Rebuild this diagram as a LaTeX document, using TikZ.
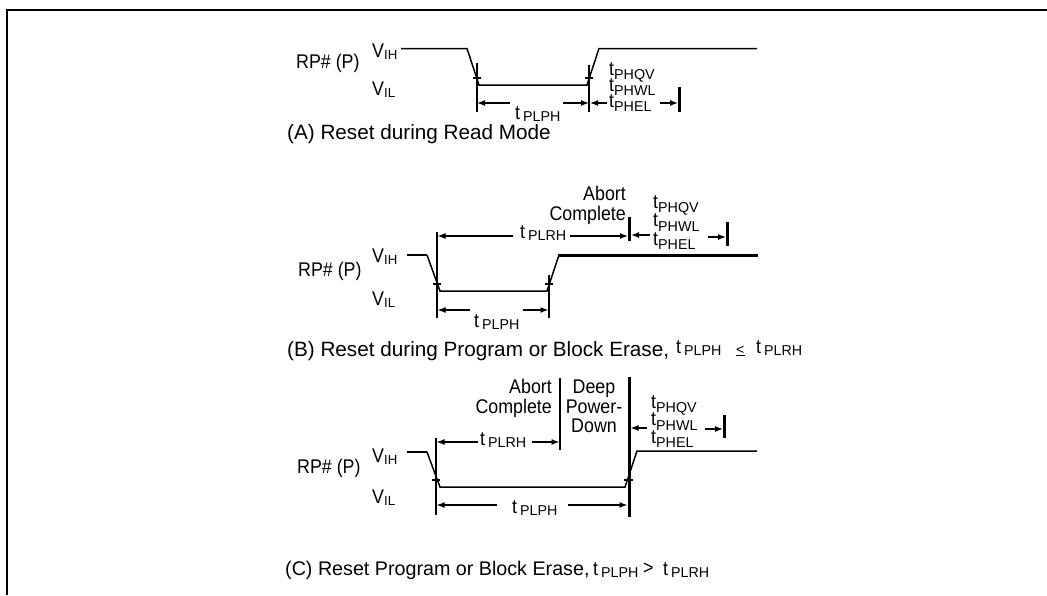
\documentclass[tikz,border=0pt]{standalone}
\usepackage{fontspec}
\setmainfont{Liberation Sans}
\newfontfamily\condf{Liberation Sans}[FakeStretch=0.9]
\usetikzlibrary{arrows.meta}
\newcommand\labf{\condf\fontsize{19.8}{22}\selectfont}
\newcommand\tsubf{\normalfont\fontsize{14.3}{16}\selectfont}
\newcommand\vsubf{\normalfont\fontsize{13.2}{15}\selectfont}
\newcommand\capf{\normalfont\fontsize{20.7}{24}\selectfont}
\newcommand\capcf{\normalfont\fontsize{19.7}{23}\selectfont}
\newcommand\tsb[1]{t\raisebox{-4.5pt}{\tsubf #1}}
\newcommand\tsp[1]{t\hspace{3pt}\raisebox{-2pt}{\tsubf #1}}
\newcommand\vsb[1]{V\raisebox{-2.5pt}{\vsubf #1}}
\tikzset{
  sig/.style={line width=1.5pt},
  heavy/.style={line width=3pt},
  dimarrow/.style={line width=1.4pt,-{Latex[length=8pt,width=6pt]}},
  txt/.style={inner sep=0pt,anchor=base west,font=\labf},
  txte/.style={inner sep=0pt,anchor=base east,font=\labf},
  txtc/.style={inner sep=0pt,anchor=base,font=\labf},
  captxt/.style={inner sep=0pt,anchor=base west,font=\capf},
}
\begin{document}
\begin{tikzpicture}[x=1pt,y=-1pt]
\useasboundingbox (0,0) rectangle (1047,595);
% frame
\draw[line width=2.5pt] (7,595) -- (7,10) -- (1047,10);

% ================= Part A =================
\node[txt] (rpA) at (296,68) {RP\# (P)};
\node[txt] (vihA) at (372,57) {\vsb{IH}};
\node[txt] (vilA) at (372,95) {\vsb{IL}};
\draw[sig] (401,48.5) -- (467,48.5) -- (479,85) -- (587,85) -- (599,48.5) -- (757,48.5);
\coordinate (A1t) at (477,63); \coordinate (A1b) at (477,112);
\coordinate (A2t) at (589,65); \coordinate (A2b) at (589,112);
\draw[sig] (A1t) -- (A1b);
\draw[sig] (A2t) -- (A2b);
\draw[sig] (473,78) -- (481,78);
\draw[sig] (585,78) -- (593,78);
\node[txt] (tplphA) at (515,119) {\tsp{PLPH}};
\coordinate (A1m) at (477,103); \coordinate (A2m) at (589,103);
\draw[dimarrow] (510,103) -- (A1m);
\draw[dimarrow] (563,103) -- (A2m);
\draw[dimarrow] (607,103) -- (590,103);
\coordinate (A3t) at (679,87); \coordinate (A3b) at (679,112);
\draw[dimarrow] (660,103) -- (678,103);
\draw[heavy] (A3t) -- (A3b);
\node[txt] (tqA) at (609,75) {\tsb{PHQV}};
\node[txt] (twA) at (609,91) {\tsb{PHWL}};
\node[txt] (teA) at (609,107) {\tsb{PHEL}};
\node[captxt] (capA) at (287,139) {(A) Reset during Read Mode};

% ================= Part B =================
\node[txt] (rpB) at (298,276) {RP\# (P)};
\node[txt] (vihB) at (372,262) {\vsb{IH}};
\node[txt] (vilB) at (372,305) {\vsb{IL}};
\draw[line width=2pt] (407,255) -- (427,255);
\draw[sig] (427,255) -- (440,291) -- (547,291) -- (559,255);
\draw[heavy] (558,255) -- (758,255);
\draw[sig] (437,232) -- (437,318);
\draw[sig] (549,275) -- (549,318);
\draw[sig] (433,284) -- (441,284);
\draw[sig] (545,284) -- (553,284);
% tPLRH
\node[txt] (tplrhB) at (520,238) {\tsp{PLRH}};
\draw[dimarrow] (513,236) -- (437.5,236);
\draw[dimarrow] (570,236) -- (628,236);
\draw[heavy] (629,217) -- (629,241);
\node[txte] (abB) at (626,200) {Abort};
\node[txte] (coB) at (626,220) {Complete};
% stack
\draw[dimarrow] (650,235) -- (631,235);
\node[txt] (tqB) at (653,208) {\tsb{PHQV}};
\node[txt] (twB) at (653,226.5) {\tsb{PHWL}};
\node[txt] (teB) at (653,245) {\tsb{PHEL}};
\draw[dimarrow] (708,237) -- (726,237);
\draw[heavy] (727,222) -- (727,246);
% tPLPH
\node[txt] (tplphB) at (474,327) {\tsp{PLPH}};
\draw[dimarrow] (470,310) -- (437.5,310);
\draw[dimarrow] (523,310) -- (548.5,310);
% caption
\node[captxt] (capB) at (287,356) {(B) Reset during Program or Block Erase,};
\node[txt] (cb1) at (676,353) {\tsp{PLPH}};
\node[txt,font=\tsubf] (cb2) at (736,354) {\underline{<}};
\node[txt] (cb3) at (756,353) {\tsp{PLRH}};

% ================= Part C =================
\node[txt] (rpC) at (297,473) {RP\# (P)};
\node[txt] (vihC) at (372,462) {\vsb{IH}};
\node[txt] (vilC) at (372,503) {\vsb{IL}};
\draw[line width=2pt] (407,452) -- (427,452);
\draw[sig] (427,452) -- (440,487) -- (625,487) -- (637,451) -- (757,451);
\draw[sig] (436,438) -- (436,515);
\draw[sig] (432,480) -- (440,480);
\draw[heavy] (629,377) -- (629,517);
\draw[sig] (624,480) -- (633,480);
\draw[line width=1.8pt] (560,378) -- (560,450);
\node[txte] (abC) at (552,393) {Abort};
\node[txte] (coC) at (552,413) {Complete};
\node[txtc] (dpC) at (594,393) {Deep};
\node[txtc] (pwC) at (594,413) {Power-};
\node[txtc] (dnC) at (594,432) {Down};
% tPLRH
\node[txt] (tplrhC) at (480,445) {\tsp{PLRH}};
\draw[dimarrow] (478,442) -- (436.5,442);
\draw[dimarrow] (532,442) -- (559.5,442);
% tPLPH
\node[txt] (tplphC) at (512,513) {\tsp{PLPH}};
\draw[dimarrow] (497,505) -- (436.5,505);
\draw[dimarrow] (568,505) -- (627.5,505);
% stack
\draw[dimarrow] (647,428) -- (630.5,428);
\node[txt] (tqC) at (651,408) {\tsb{PHQV}};
\node[txt] (twC) at (651,425.5) {\tsb{PHWL}};
\node[txt] (teC) at (651,443) {\tsb{PHEL}};
\draw[dimarrow] (705,429) -- (723,429);
\draw[heavy] (724,415) -- (724,438);
% caption
\node[captxt,font=\capcf] (capC) at (285,575) {(C) Reset Program or Block Erase,};
\node[txt] (cc1) at (593,575) {\tsp{PLPH}};
\node[txt] (cc2) at (643,574) {>};
\node[txt] (cc3) at (663,575) {\tsp{PLRH}};
\end{tikzpicture}
\end{document}
